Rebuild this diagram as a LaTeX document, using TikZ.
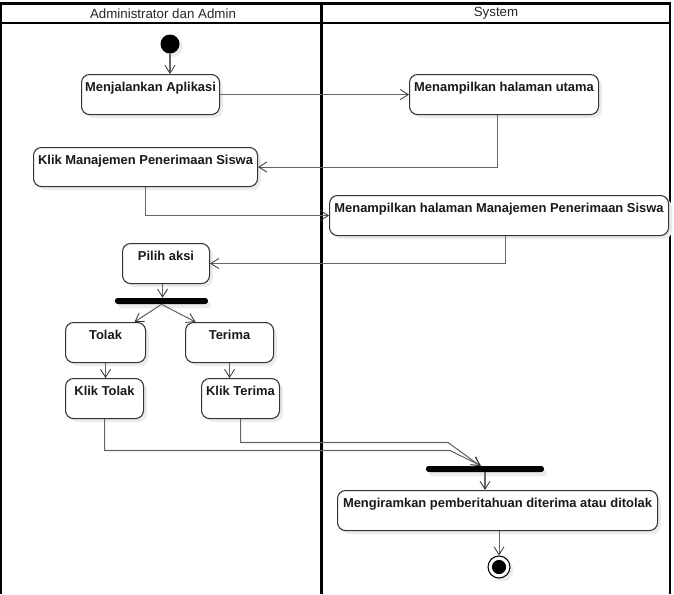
\documentclass[tikz,border=0pt]{standalone}
\usepackage{fontspec}
\setmainfont{Liberation Sans}
\usetikzlibrary{arrows.meta,calc,shadows}
\newcommand\pxu{0.75pt}
\begin{document}
\begin{tikzpicture}[x=0.75pt,y=-0.75pt,
  box/.style={draw=black!80, line width=0.8pt, rounded corners=6pt, fill=white,
    anchor=north west, inner sep=0pt,
    drop shadow={shadow xshift=2.5pt, shadow yshift=-2.5pt, fill=black!8, opacity=1}},
  lbl/.style={font=\bfseries\fontsize{9.7}{11}\selectfont, anchor=north, inner sep=0pt, yshift=-6pt, text=black!90},
  bar/.style={fill=black, draw=none, rounded corners=2pt, inner sep=0pt, minimum height={6*\pxu},
    drop shadow={shadow xshift=2.5pt, shadow yshift=-3pt, fill=black!8, opacity=1}},
  hdr/.style={font=\fontsize{10}{12}\selectfont, inner sep=0pt, text=black!85},
  conn/.style={draw=black!60, line width=0.8pt, -{Straight Barb[length=6pt,width=7.5pt,line width=0.6pt,color=black!80]}},
  frame/.style={line width=1.6pt, draw=black}
]
\useasboundingbox (0,0) rectangle (674,594);
% frame
\draw[frame] (1,594) -- (1,3.5) -- (670,3.5) -- (670,594);
\draw[frame] (1,23) -- (670,23);
\draw[frame] (321.5,3.5) -- (321.5,594);
\node[hdr] (h1) at (163,13.5) {Administrator dan Admin};
\node[hdr] (h2) at (496,13.5) {System};
% nodes
\node[circle, fill=black, minimum size={19*\pxu}, inner sep=0pt,
  drop shadow={shadow xshift=2.5pt, shadow yshift=-2.5pt, fill=black!8, opacity=1}] (s) at (170,44) {};
\node[box, minimum width={138*\pxu}, minimum height={40*\pxu}, label={[lbl]north:Menjalankan Aplikasi}] (a) at (81,74) {};
\node[box, minimum width={189*\pxu}, minimum height={40*\pxu}, label={[lbl]north:Menampilkan halaman utama}] (b) at (409,74) {};
\node[box, minimum width={224*\pxu}, minimum height={39*\pxu}, label={[lbl]north:Klik Manajemen Penerimaan Siswa}] (c) at (33,147) {};
\node[box, minimum width={339*\pxu}, minimum height={40*\pxu}, label={[lbl]north:Menampilkan halaman Manajemen Penerimaan Siswa}] (d) at (329,195) {};
\node[box, minimum width={87*\pxu}, minimum height={40*\pxu}, label={[lbl]north:Pilih aksi}] (e) at (122,243) {};
\node[bar, minimum width={93*\pxu}] (f1) at (161.5,301) {};
\node[box, minimum width={80*\pxu}, minimum height={40*\pxu}, label={[lbl]north:Tolak}] (t) at (65,322) {};
\node[box, minimum width={88*\pxu}, minimum height={40*\pxu}, label={[lbl]north:Terima}] (r) at (185,322) {};
\node[box, minimum width={78*\pxu}, minimum height={40*\pxu}, label={[lbl]north:Klik Tolak}] (kt) at (65,378) {};
\node[box, minimum width={78*\pxu}, minimum height={40*\pxu}, label={[lbl]north:Klik Terima}] (kr) at (201,378) {};
\node[bar, minimum width={118*\pxu}] (f2) at (485,469) {};
\node[box, minimum width={320*\pxu}, minimum height={40*\pxu}, label={[lbl]north:Mengiramkan pemberitahuan diterima atau ditolak}] (m) at (337,490) {};
\node[circle, draw=black, line width=0.8pt, fill=white, minimum size={22*\pxu}, inner sep=0pt,
  drop shadow={shadow xshift=2.5pt, shadow yshift=-2.5pt, fill=black!8, opacity=1},
  path picture={\fill[black] (path picture bounding box.center) circle (5.3pt);}] (en) at (499,567) {};
% helper coordinates
\coordinate (bp) at ($(b.south)+(-6.5,0)$);
\coordinate (dp) at ($(d.south)+(6.5,0)$);
\coordinate (ep) at ($(e.south)+(-3.5,0)$);
\coordinate (mp) at ($(m.south)+(1.5,0)$);
\coordinate (tt) at ($(t.north)+(29,0)$);
\coordinate (rt) at ($(r.north)+(-34,0)$);
\coordinate (j1) at (450,450.5);
\coordinate (j2) at (448,442.5);
\coordinate (f2a) at ($(f2.north)+(-4,0)$);
\coordinate (f2b) at ($(f2.north)+(-5,0)$);
% connectors
\draw[conn] (s.south) -- (s.south |- a.north);
\draw[conn] (a.east) -- (b.west);
\draw[conn] (bp) |- (c.east);
\draw[conn] (c.south) |- (d.west);
\draw[conn] (dp) |- (e.east);
\draw[conn] (ep) -- (ep |- f1.north);
\draw[conn] (f1.south) -- (tt);
\draw[conn] (f1.south) -- (rt);
\draw[conn] (t.south) -- (t.south |- kt.north);
\draw[conn] (r.south) -- (r.south |- kr.north);
\draw[conn] (kt.south) |- (j1) -- (f2a);
\draw[conn] (kr.south) |- (j2) -- (f2b);
\draw[conn] (f2.south) -- (f2.south |- m.north);
\draw[conn] (mp) -- (mp |- en.north);
\end{tikzpicture}
\end{document}
